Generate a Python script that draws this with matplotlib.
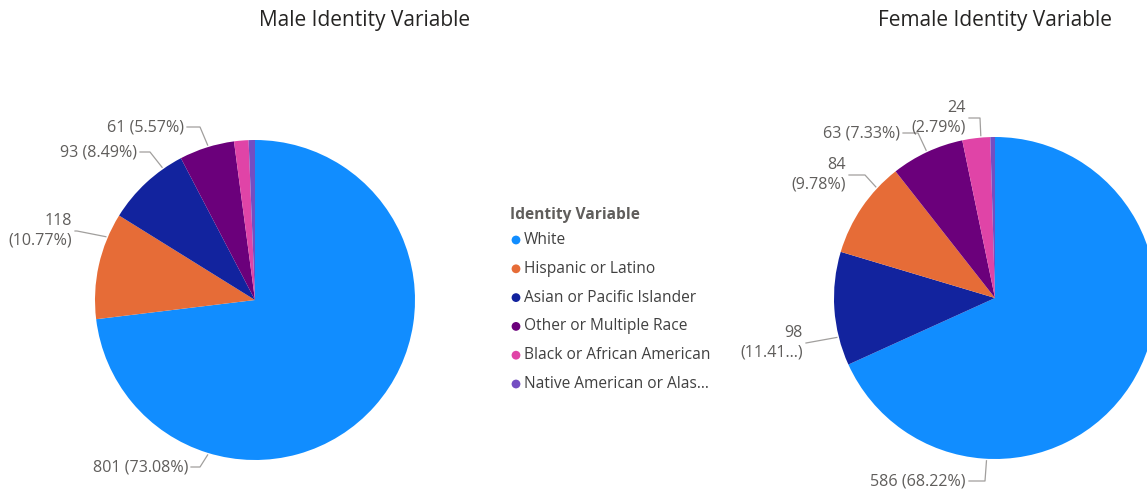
import numpy as np
import matplotlib.pyplot as plt

plt.rcParams['font.family'] = ['Open Sans', 'DejaVu Sans']

categories = ['White', 'Hispanic or Latino', 'Asian or Pacific Islander',
              'Other or Multiple Race', 'Black or African American',
              'Native American or Alas...']
colors = ['#118DFF', '#E66C37', '#12239E', '#6B007B', '#E044A7', '#744EC2']

male_values = [801, 118, 93, 61, 16, 7]
male_labels = ['801 (73.08%)', '118\n(10.77%)', '93 (8.49%)', '61 (5.57%)', None, None]

# female slices sorted by size like the original (Asian before Hispanic)
female_order = [0, 2, 1, 3, 4, 5]
female_values = [586, 98, 84, 63, 24, 4]
female_labels = ['586 (68.22%)', '98\n(11.41...)', '84\n(9.78%)', '63 (7.33%)', '24\n(2.79%)', None]

# layout: (edge angle, elbow x, elbow y, text x) in pixels, y up
male_layout = [(-107, 200, 24, 188), (157, 77, 260, 72), (125, 150, 339, 137),
               (107, 200, 364, 184)]
female_layout = [(-93, 985, 10, 966), (194, 806, 148, 803), (137, 865, 316, 846),
                 (115, 918, 358, 900), (95, 980, 373, 966)]

fig = plt.figure(figsize=(11.47, 4.91), dpi=100)
ax = fig.add_axes([0, 0, 1, 1])

label_color = '#605E5C'
line_color = '#A19F9D'


def draw_pie(center, r, values, cols, labels, layout):
    ax.pie(values, colors=cols, center=center, radius=r, startangle=90,
           counterclock=False, wedgeprops=dict(linewidth=0))
    for lab, (ang, ex, ey, tx) in zip(labels, layout):
        if lab is None:
            continue
        a = np.deg2rad(ang)
        px = center[0] + (r + 2) * np.cos(a)
        py = center[1] + (r + 2) * np.sin(a)
        ax.plot([px, ex, tx + 3], [py, ey, ey], color=line_color, lw=0.9)
        ax.text(tx, ey, lab, ha='right', va='center', fontsize=11.6,
                color=label_color, linespacing=1.3)


draw_pie((255, 191), 160, male_values, colors, male_labels, male_layout)
draw_pie((995, 193), 161, female_values, [colors[i] for i in female_order],
         female_labels, female_layout)

ax.text(365, 471, 'Male Identity Variable', ha='center', va='center',
        fontsize=15, color='#252423')
ax.text(995, 471, 'Female Identity Variable', ha='center', va='center',
        fontsize=15, color='#252423')

# legend
ax.text(510, 276, 'Identity Variable', ha='left', va='center', fontsize=11.2,
        fontweight='bold', color='#605E5C')
for i, (name, c) in enumerate(zip(categories, colors)):
    y = 251 - i * 28.8
    ax.scatter(516, y, s=40, color=c, edgecolors='none')
    ax.text(524, y, name, ha='left', va='center', fontsize=11.2, color='#404040')

ax.set_aspect('auto')
ax.set_xlim(0, 1147)
ax.set_ylim(0, 491)
ax.axis('off')

fig.savefig('out.png', dpi=100)
